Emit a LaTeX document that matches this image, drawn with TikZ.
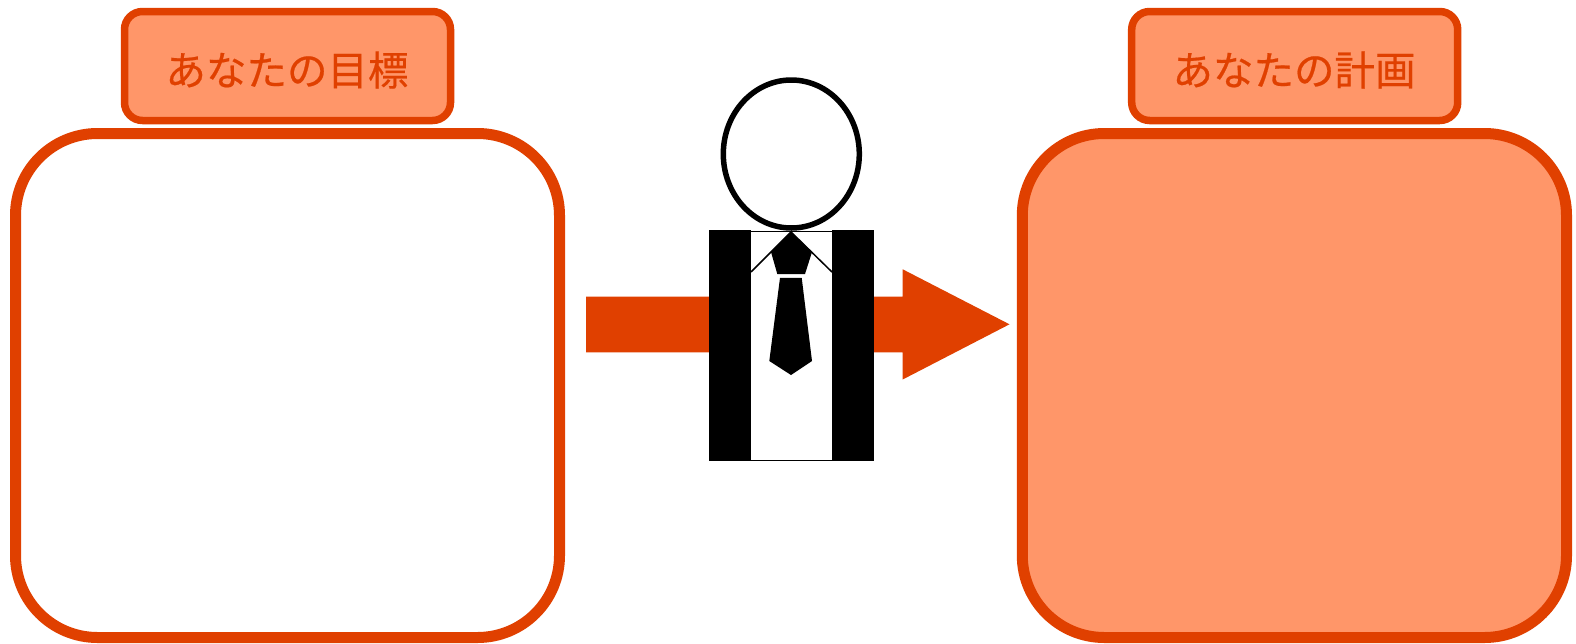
\documentclass[tikz,border=0pt]{standalone}
\usepackage{fontspec}
\newfontfamily\cjk{Noto Sans CJK JP}[FakeBold=0.5]
\definecolor{edge}{HTML}{E04000}
\definecolor{soft}{HTML}{FF9669}
\tikzset{
  bigbox/.style={draw=edge,line width=11pt,rounded corners=82pt},
  tagbox/.style={draw=edge,fill=soft,line width=7.5pt,rounded corners=18pt,text=edge,
    minimum width=326pt,minimum height=109pt,inner sep=0pt},
  taglabel/.style={text=edge,inner sep=0pt,font=\cjk\fontsize{40.5}{40.5}\selectfont},
  ink/.style={fill=black,draw=none}
}
\begin{document}
\begin{tikzpicture}[x=1pt,y=-1pt]
\useasboundingbox (0,0) rectangle (1576,643);
\fill[white] (0,0) rectangle (1576,643);
\draw[bigbox,fill=white] (15.5,133.5) rectangle (559.5,637.5);
\draw[bigbox,fill=soft] (1022.3,133.5) rectangle (1566.5,637.5);
\node[tagbox] (goal) at (287.5,66) {};
\node[tagbox] (plan) at (1294.7,66) {};
\node[taglabel] (goaltext) at (287,70) {あなたの目標};
\node[taglabel] (plantext) at (1294,70) {あなたの計画};
\fill[edge] (586,296.5) -- (902.7,296.5) -- (902.7,269.3) -- (1009.5,324.3) -- (902.7,379.5) -- (902.7,352.3) -- (586,352.3) -- cycle;
\fill[white] (751,230) rectangle (832,461);
\draw[line width=5.5pt,fill=white] (791.3,154) ellipse (68 and 74);
\fill[ink] (709,229.5) rectangle (751,461);
\fill[ink] (832,229.5) rectangle (873.8,461);
\draw[line width=1.3pt] (751,231.5) -- (832,231.5);
\draw[line width=1.3pt] (751,460.3) -- (832,460.3);
\draw[line width=1.5pt] (751,272) -- (791,232) -- (832,272);
\fill[ink] (791,232) -- (771,252) -- (777.3,274) -- (805,274) -- (812,252) -- cycle;
\fill[ink] (780,277.8) -- (801.7,277.8) -- (812,361) -- (791,375) -- (769.3,361) -- cycle;
\end{tikzpicture}
\end{document}
